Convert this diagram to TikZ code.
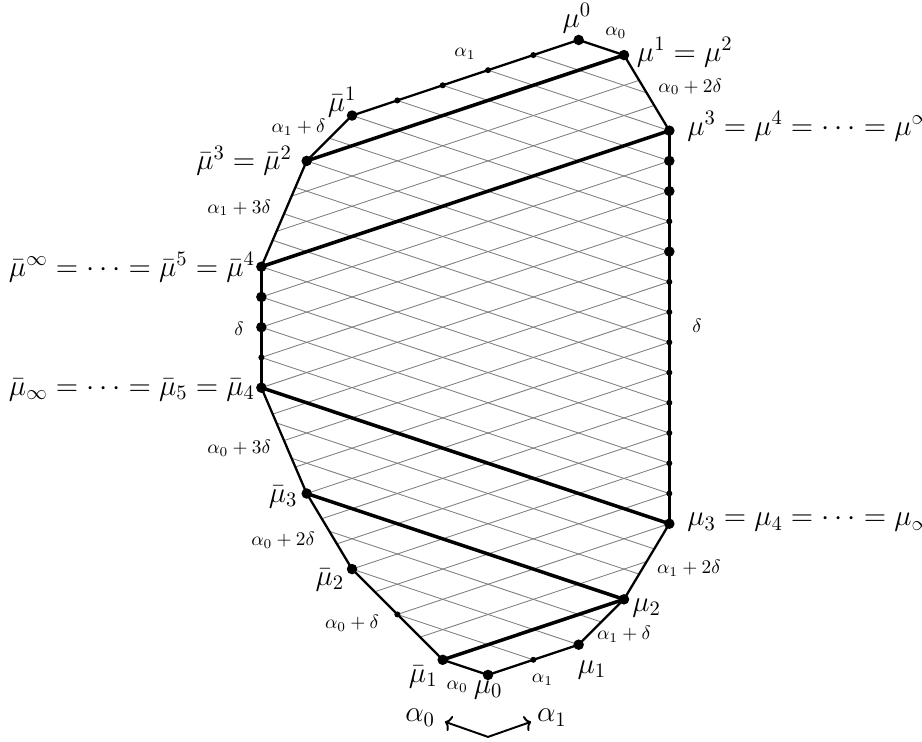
\documentclass[tikz,border=0pt]{standalone}
\usepackage{fix-cm}
\usepackage{amsmath}
\usepackage{amssymb}
\usetikzlibrary{positioning, calc, arrows.meta}

\begin{document}
\begin{tikzpicture}[
    x=0.9067cm, y=0.3024cm,
    bigdot/.style={circle, fill, inner sep=0pt, minimum size=0.21cm},
    smalldot/.style={circle, fill, inner sep=0pt, minimum size=0.12cm},
    weight/.style={inner sep=1pt, font=\fontsize{11}{13}\selectfont},
    vlabel/.style={inner sep=1pt, font=\fontsize{16.7}{19}\selectfont},
    edge/.style={line width=1.3pt},
    chord/.style={line width=2pt},
    gridline/.style={gray, line width=0.5pt},
    arrow/.style={<->, line width=1.1pt, >={To[length=3.5pt, width=9pt]}}
]
    \useasboundingbox (-10.766,-4.431) rectangle (9.574,44.643);

    % Vertices
    \coordinate (mu0) at (0,0);
    \coordinate (mu1) at (2,2);
    \coordinate (mu2) at (3,5);
    \coordinate (mu3) at (4,10);
    \coordinate (muup3) at (4,36);
    \coordinate (muup1) at (3,41);
    \coordinate (muup0) at (2,42);
    \coordinate (mubarup1) at (-3,37);
    \coordinate (mubarup2) at (-4,34);
    \coordinate (mubarup4) at (-5,27);
    \coordinate (mubar4) at (-5,19);
    \coordinate (mubar3) at (-4,12);
    \coordinate (mubar2) at (-3,7);
    \coordinate (mubar1) at (-1,1);

    % Grid
    \begin{scope}
        \clip (mu0) -- (mu1) -- (mu2) -- (mu3) -- (muup3) -- (muup1) -- (muup0)
            -- (mubarup1) -- (mubarup2) -- (mubarup4) -- (mubar4) -- (mubar3)
            -- (mubar2) -- (mubar1) -- cycle;
        \foreach \c in {0,2,...,40}
            \draw[gridline] (-6,\c-6) -- (6,\c+6);
        \foreach \c in {0,2,...,44}
            \draw[gridline] (-6,\c+6) -- (6,\c-6);
    \end{scope}

    % Boundary
    \draw[edge] (mu0) -- (mu1) -- (mu2) -- (mu3);
    \draw[edge] (muup3) -- (muup1) -- (muup0) -- (mubarup1) -- (mubarup2) -- (mubarup4);
    \draw[edge] (mubar4) -- (mubar3) -- (mubar2) -- (mubar1) -- (mu0);
    \draw[chord] (mu3) -- (muup3);
    \draw[chord] (mubarup4) -- (mubar4);

    % Chords
    \draw[chord] (mubar1) -- (mu2);
    \draw[chord] (mubar3) -- (mu2);
    \draw[chord] (mubar4) -- (mu3);
    \draw[chord] (mubarup4) -- (muup3);
    \draw[chord] (mubarup2) -- (muup1);

    % Dots
    \foreach \p in {mu0,mu1,mu2,mu3,muup3,muup1,muup0,mubarup1,mubarup2,mubarup4,mubar4,mubar3,mubar2,mubar1}
        \node[bigdot] (\p-dot) at (\p) {};
    \foreach \x/\y [count=\i] in {4/28,4/32,4/34,-5/25,-5/23}
        \node[bigdot] (big\i) at (\x,\y) {};
    \foreach \x/\y [count=\i] in {1/1,-2/4,-5/21,4/12,4/14,4/16,4/18,4/20,4/22,4/24,4/26,4/30,1/41,0/40,-1/39,-2/38}
        \node[smalldot] (small\i) at (\x,\y) {};

    % Vertex labels
    \node[vlabel] (lab-muup0) at (1.96,43.45) {$\mu^0$};
    \node[vlabel, anchor=west] (lab-muup1) at (3.24,41.2) {$\mu^1=\mu^2$};
    \node[vlabel, anchor=west] (lab-muup3) at (4.35,36.3) {$\mu^3=\mu^4=\cdots=\mu^\infty$};
    \node[vlabel, anchor=west] (lab-mu3) at (4.35,10.1) {$\mu_3=\mu_4=\cdots=\mu_\infty$};
    \node[vlabel] (lab-mu2) at (3.5,4.43) {$\mu_2$};
    \node[vlabel] (lab-mu1) at (2.29,0.33) {$\mu_1$};
    \node[vlabel] (lab-mu0) at (0,-1.0) {$\mu_0$};
    \node[vlabel] (lab-mubar1) at (-1.43,-0.13) {$\bar\mu_1$};
    \node[vlabel] (lab-mubar2) at (-3.49,6.28) {$\bar\mu_2$};
    \node[vlabel] (lab-mubar3) at (-4.52,11.77) {$\bar\mu_3$};
    \node[vlabel, anchor=east] (lab-mubar4) at (-5.10,18.85) {$\bar\mu_\infty=\cdots=\bar\mu_5=\bar\mu_4$};
    \node[vlabel, anchor=east] (lab-mubarup4) at (-5.10,26.98) {$\bar\mu^\infty=\cdots=\bar\mu^5=\bar\mu^4$};
    \node[vlabel, anchor=east] (lab-mubarup2) at (-4.28,34.0) {$\bar\mu^3=\bar\mu^2$};
    \node[vlabel] (lab-mubarup1) at (-3.22,37.9) {$\bar\mu^1$};

    % Edge labels
    \node[weight] (w1) at (2.82,42.46) {$\alpha_0$};
    \node[weight] (w2) at (4.46,38.9) {$\alpha_0+2\delta$};
    \node[weight] (w3) at (4.61,23.08) {$\delta$};
    \node[weight] (w4) at (4.43,7.08) {$\alpha_1+2\delta$};
    \node[weight] (w5) at (3.0,2.7) {$\alpha_1+\delta$};
    \node[weight] (w6) at (1.2,-0.33) {$\alpha_1$};
    \node[weight] (w7) at (-0.68,-0.79) {$\alpha_0$};
    \node[weight] (w8) at (-3.0,3.44) {$\alpha_0+\delta$};
    \node[weight] (w9) at (-4.52,8.93) {$\alpha_0+2\delta$};
    \node[weight] (w10) at (-5.49,15.0) {$\alpha_0+3\delta$};
    \node[weight] (w11) at (-5.49,22.9) {$\delta$};
    \node[weight] (w12) at (-5.49,30.9) {$\alpha_1+3\delta$};
    \node[weight] (w13) at (-4.18,36.24) {$\alpha_1+\delta$};
    \node[weight] (w14) at (-0.51,41.07) {$\alpha_1$};

    % Simple roots
    \coordinate (abase) at (0,-4.1);
    \coordinate (a0tip) at (-0.95,-3.1);
    \coordinate (a1tip) at (0.95,-3.1);
    \draw[arrow] (a0tip) -- (abase) -- (a1tip);
    \node[vlabel] (lab-a0) at (-1.5,-2.84) {$\alpha_0$};
    \node[vlabel] (lab-a1) at (1.41,-2.84) {$\alpha_1$};
\end{tikzpicture}
\end{document}
